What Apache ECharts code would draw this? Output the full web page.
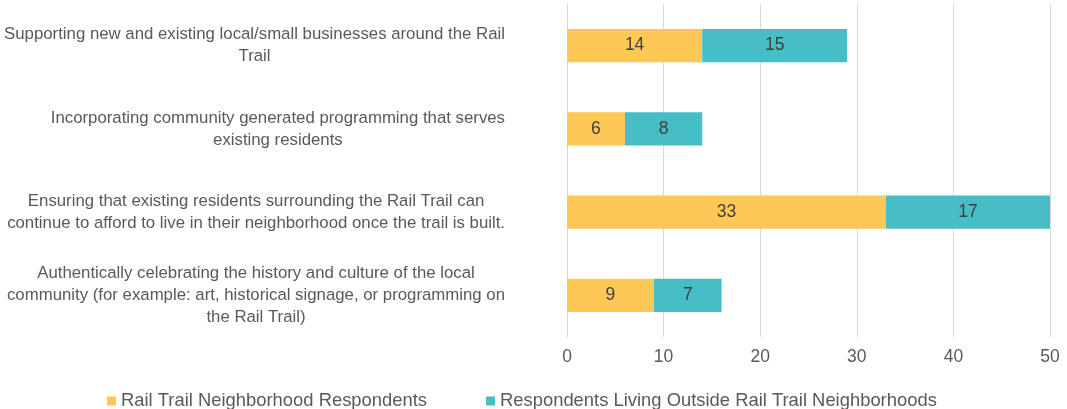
<!DOCTYPE html>
<html>
<head>
<meta charset="utf-8">
<script src="https://cdn.jsdelivr.net/npm/echarts@6/dist/echarts.min.js"></script>
<style>
  html, body { margin: 0; padding: 0; background: #fff; }
  #main { width: 1067px; height: 409px; }
</style>
</head>
<body>
<div id="main"></div>
<script>
// categories, top to bottom as in the picture
var categories = [
  'Supporting new and existing local/small businesses around the Rail\nTrail',
  'Incorporating community generated programming that serves\nexisting residents',
  'Ensuring that existing residents surrounding the Rail Trail can\ncontinue to afford to live in their neighborhood once the trail is built.',
  'Authentically celebrating the history and culture of the local\ncommunity (for example: art, historical signage, or programming on\nthe Rail Trail)'
];
var seriesNames = ['Rail Trail Neighborhood Respondents', 'Respondents Living Outside Rail Trail Neighborhoods'];
var railTrail = [14, 6, 33, 9];
var outside = [15, 8, 17, 7];

var chart = echarts.init(document.getElementById('main'));
var fontFamily = '"Liberation Sans", Arial, sans-serif';

var option = {
  animation: false,
  textStyle: { fontFamily: fontFamily },
  color: ['#FEC857', '#47BDC6'],
  legend: {
    data: seriesNames,
    left: 102,
    top: 387,
    itemWidth: 9,
    itemHeight: 9,
    itemGap: 59,
    icon: 'rect',
    textStyle: { fontSize: 18.4, color: '#595959', fontFamily: fontFamily }
  },
  grid: {
    left: 567,
    right: 17,
    top: 4,
    bottom: 72,
    outerBoundsMode: 'none'
  },
  xAxis: {
    type: 'value',
    min: 0,
    max: 50,
    interval: 10,
    axisLine: { show: false },
    axisTick: { show: false },
    axisLabel: { fontSize: 17.5, color: '#595959', margin: 11, fontFamily: fontFamily },
    splitLine: { lineStyle: { color: '#D9D9D9', width: 1 } }
  },
  yAxis: {
    type: 'category',
    inverse: true,
    data: categories,
    axisLine: { lineStyle: { color: '#D9D9D9' } },
    axisTick: { show: false },
    axisLabel: {
      margin: 62,
      formatter: function (v) { return '{c|' + v + '}'; },
      rich: {
        c: { align: 'center', fontSize: 16.8, lineHeight: 22, color: '#595959', fontFamily: fontFamily }
      }
    }
  },
  series: [
    {
      name: seriesNames[0],
      type: 'bar',
      stack: 'total',
      data: railTrail,
      barCategoryGap: '60%',
      label: { show: true, position: 'inside', fontSize: 17.5, color: '#404040', fontFamily: fontFamily }
    },
    {
      name: seriesNames[1],
      type: 'bar',
      stack: 'total',
      data: outside,
      barCategoryGap: '60%',
      label: { show: true, position: 'inside', fontSize: 17.5, color: '#404040', fontFamily: fontFamily }
    }
  ]
};
chart.setOption(option);
</script>
</body>
</html>
